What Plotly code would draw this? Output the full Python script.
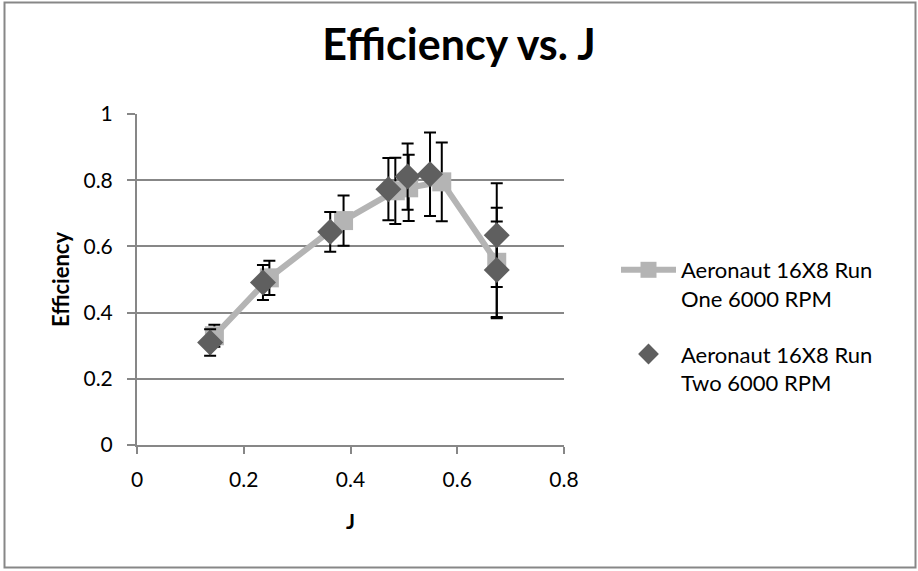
import plotly.graph_objects as go

# Data
run_one_j = [0.145, 0.248, 0.387, 0.484, 0.509, 0.571, 0.674]
run_one_eff = [0.330, 0.505, 0.678, 0.768, 0.777, 0.795, 0.552]
run_one_err = [0.033, 0.052, 0.076, 0.100, 0.100, 0.119, 0.165]

run_two_j = [0.137, 0.236, 0.362, 0.471, 0.507, 0.549, 0.674, 0.674]
run_two_eff = [0.310, 0.491, 0.644, 0.773, 0.811, 0.818, 0.634, 0.529]
run_two_err = [0.040, 0.053, 0.060, 0.094, 0.100, 0.126, 0.157, 0.146]

x_ticks = [0, 0.2, 0.4, 0.6, 0.8]
y_ticks = [0, 0.2, 0.4, 0.6, 0.8, 1]

FONT = "Lato"
W, H = 918, 571
L, R, T, B = 137, 354, 114, 126
pw, ph = W - L - R, H - T - B

def px_x(px):
    return (px - L) / pw

def px_y(py):
    return (H - B - py) / ph

fig = go.Figure()
fig.add_trace(go.Scatter(
    x=run_one_j, y=run_one_eff,
    mode="lines+markers",
    name="Aeronaut 16X8 Run<br>One 6000 RPM",
    legendgroup="one",
    line=dict(color="#B4B4B4", width=6),
    marker=dict(symbol="square", size=19, color="#B4B4B4"),
    error_y=dict(type="data", array=run_one_err, color="black", thickness=2, width=6),
))
fig.add_trace(go.Scatter(
    x=run_two_j, y=run_two_eff,
    mode="markers",
    name="Aeronaut 16X8 Run<br>Two 6000 RPM",
    legendgroup="two",
    marker=dict(symbol="diamond", size=20, color="#5F5F5F"),
    error_y=dict(type="data", array=run_two_err, color="black", thickness=2, width=6),
))

fig.update_layout(
    width=W, height=H,
    margin=dict(l=L, r=R, t=T, b=B, pad=0),
    paper_bgcolor="white", plot_bgcolor="white",
    font=dict(family=FONT, size=21, color="black"),
    title=dict(text="<b>Efficiency vs. J</b>", x=0.5, xref="container", xanchor="center",
               y=1 - 45 / H, yanchor="middle", yref="container",
               font=dict(family=FONT, size=43, color="black")),
    showlegend=True,
    legend=dict(x=px_x(616), y=px_y(249), xanchor="left", yanchor="top",
                valign="top", tracegroupgap=24, itemwidth=55,
                font=dict(family=FONT, size=22),
                bgcolor="rgba(0,0,0,0)"),
    xaxis=dict(range=[0, 0.8], tickvals=x_ticks, ticktext=[f"{v:g}" for v in x_ticks],
               showgrid=False, zeroline=False, showline=True, linecolor="#878787", linewidth=2,
               ticks="outside", ticklen=7, tickcolor="#878787", tickwidth=2,
               ticklabelstandoff=8,
               title=dict(text="<b>J</b>", font=dict(family=FONT, size=21), standoff=24),
               tickfont=dict(family=FONT, size=21)),
    yaxis=dict(range=[0, 1], tickvals=y_ticks, ticktext=[f"{v:g}" for v in y_ticks],
               showgrid=True, gridcolor="#878787", gridwidth=2,
               zeroline=False, showline=True, linecolor="#878787", linewidth=2,
               ticks="outside", ticklen=8, tickcolor="#878787", tickwidth=2,
               ticklabelstandoff=10,
               title=dict(text="<b>Efficiency</b>", font=dict(family=FONT, size=22), standoff=8),
               tickfont=dict(family=FONT, size=21)),
    shapes=[dict(type="rect", xref="paper", yref="paper",
                 x0=px_x(4.5), x1=px_x(915.5), y0=px_y(567.5), y1=px_y(2.5),
                 line=dict(color="#878787", width=2), layer="below")],
)

fig.write_html("out.html", config={"displayModeBar": False},
               post_script="document.body.style.margin='0px';")
